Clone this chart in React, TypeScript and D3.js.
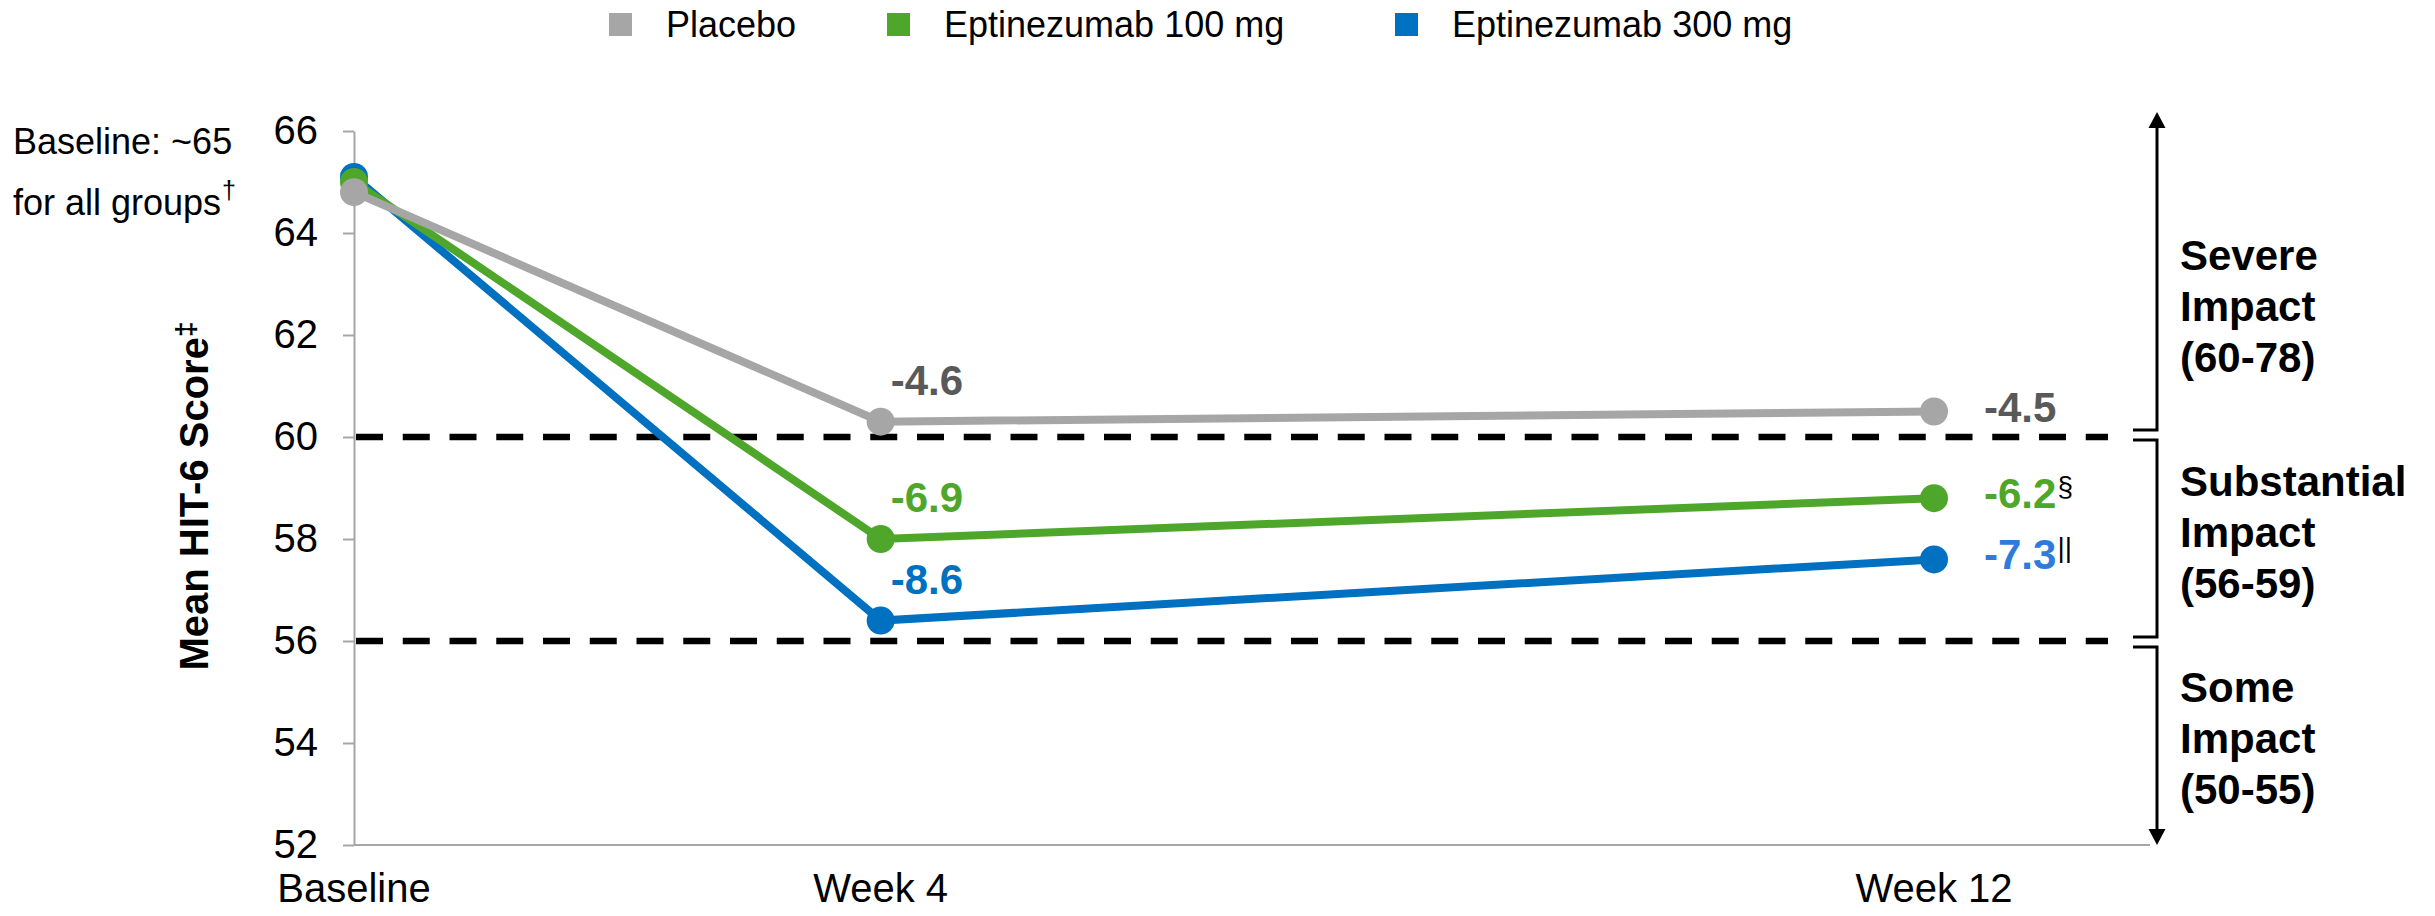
import React, { useEffect, useRef } from 'react';
import * as d3 from 'd3';

// weeks since baseline for each visit, and the axis labels that go under them
const weeks = [0, 4, 12];
const visitLabels = ['Baseline', 'Week 4', 'Week 12'];

// mean HIT-6 score per visit
const placebo = [64.8, 60.3, 60.5];
const epti100 = [65.0, 58.0, 58.8];
const epti300 = [65.1, 56.4, 57.6];

// change from baseline labels (week 4, week 12) and their footnote marks
const placeboChange = ['-4.6', '-4.5'];
const epti100Change = ['-6.9', '-6.2'];
const epti300Change = ['-8.6', '-7.3'];
const placeboMarks = ['', ''];
const epti100Marks = ['', '§'];
const epti300Marks = ['', '||'];

const seriesNames = ['Placebo', 'Eptinezumab 100 mg', 'Eptinezumab 300 mg'];
const yTicks = [52, 54, 56, 58, 60, 62, 64, 66];
const thresholds = [60, 56];

// impact bands on the right and the score their middle line sits at
const bandLabels = [
  ['Severe', 'Impact', '(60-78)'],
  ['Substantial', 'Impact', '(56-59)'],
  ['Some', 'Impact', '(50-55)'],
];
const bandAnchors = [62.27, 57.84, 53.8];

const FONT = '"Liberation Sans", Arial, Helvetica, sans-serif';
const W = 2435;
const H = 916;

export default function App() {
  const gy = useRef<SVGGElement | null>(null);

  const x = d3.scaleLinear().domain([0, 12]).range([354, 1934]);
  const y = d3.scaleLinear().domain([52, 66]).range([845, 131]);

  const axisEnd = 2150;
  const dashEnd = 2108;
  const bx = 2157; // bracket line x

  const series = [
    { name: seriesNames[2], values: epti300, color: '#0070C0', labels: epti300Change, marks: epti300Marks, labelColors: ['#0070C0', '#2E7BDD'] },
    { name: seriesNames[1], values: epti100, color: '#4EA72A', labels: epti100Change, marks: epti100Marks, labelColors: ['#4EA72A', '#4EA72A'] },
    { name: seriesNames[0], values: placebo, color: '#A6A6A6', labels: placeboChange, marks: placeboMarks, labelColors: ['#595959', '#595959'] },
  ];

  const line = d3.line<number>()
    .x((d, i) => x(weeks[i]))
    .y(d => y(d));

  useEffect(() => {
    if (!gy.current) return;
    const g = d3.select(gy.current);
    g.call(d3.axisLeft(y).tickValues(yTicks).tickSize(11).tickSizeOuter(0).tickPadding(25).tickFormat(d3.format('d')));
    g.select('.domain').attr('stroke', '#A6A6A6').attr('stroke-width', 2);
    g.selectAll('.tick line').attr('stroke', '#A6A6A6').attr('stroke-width', 2);
    g.selectAll('.tick text').attr('fill', '#000').style('font-family', FONT).style('font-size', '40px');
  }, []);

  const legendX = [609, 887, 1395];

  const bracket = (y1: number, y2: number, tickTop: boolean, tickBottom: boolean) => {
    let d = '';
    if (tickTop) d += `M${bx - 24},${y1}H${bx}`; else d += `M${bx},${y1}`;
    d += `V${y2}`;
    if (tickBottom) d += `H${bx - 24}`;
    return d;
  };

  const top = y(66) - 19;
  const bottom = y(52);

  return (
    <div style={{ position: 'absolute', left: 0, top: 0 }}>
      <svg width={W} height={H} style={{ display: 'block', fontFamily: FONT }}>
        <rect width={W} height={H} fill="#fff" />

        {/* legend */}
        {series.slice().reverse().map((s, i) => (
          <g key={s.name} transform={`translate(${legendX[i]},0)`}>
            <rect x={0} y={13} width={23} height={23} fill={s.color} />
            <text x={57} y={37} fontSize={36} fill="#000">{s.name}</text>
          </g>
        ))}

        {/* baseline note */}
        <text x={13} y={154} fontSize={36} fill="#000">Baseline: ~65</text>
        <text x={13} y={215} fontSize={36} fill="#000">
          for all groups<tspan fontSize={25} dy={-16} dx={1}>†</tspan>
        </text>

        {/* y axis title */}
        <text transform="translate(208,496) rotate(-90)" textAnchor="middle" fontSize={40} fontWeight="bold" fill="#000">
          Mean HIT-6 Score<tspan fontSize={28} dy={-13}>‡</tspan>
        </text>

        <g ref={gy} transform={`translate(${x(0)},0)`} />

        {/* x axis */}
        <line x1={x(0)} x2={axisEnd} y1={bottom} y2={bottom} stroke="#A6A6A6" strokeWidth={2} />
        {weeks.map((w, i) => (
          <text key={w} x={x(w)} y={902} textAnchor="middle" fontSize={40} fill="#000">{visitLabels[i]}</text>
        ))}

        {/* impact thresholds */}
        {thresholds.map(t => (
          <line key={t} x1={x(0) + 2} x2={dashEnd} y1={y(t)} y2={y(t)} stroke="#000" strokeWidth={6.5} strokeDasharray="27 19.75" />
        ))}

        {/* series lines and markers */}
        {series.map(s => (
          <g key={s.name}>
            <path d={line(s.values) || ''} fill="none" stroke={s.color} strokeWidth={8} />
            {s.values.map((v, i) => (
              <circle key={i} cx={x(weeks[i])} cy={y(v)} r={14} fill={s.color} />
            ))}
          </g>
        ))}

        {/* change from baseline labels */}
        {series.map(s => (
          <g key={s.name + '-lab'} fontWeight="bold" fontSize={42}>
            <text x={x(weeks[1]) + 10} y={y(s.values[1]) - 27} fill={s.labelColors[0]}>{s.labels[0]}</text>
            <text x={x(weeks[2]) + 50} y={y(s.values[2]) + 10} fill={s.labelColors[1]}>
              {s.labels[1]}
              {s.marks[1] && (
                <tspan fontSize={28} fontWeight="normal" fill="#000" dy={-12} dx={1}>{s.marks[1]}</tspan>
              )}
            </text>
          </g>
        ))}

        {/* impact band brackets */}
        <g fill="none" stroke="#000" strokeWidth={3}>
          <path d={bracket(top + 15, y(60) - 7, false, true)} />
          <path d={bracket(y(60) + 3, y(56) - 4, true, true)} />
          <path d={bracket(y(56) + 6, bottom - 15, true, false)} />
        </g>
        <path d={`M${bx},${top}L${bx - 8.5},${top + 16}L${bx + 8.5},${top + 16}Z`} fill="#000" />
        <path d={`M${bx},${bottom}L${bx - 8.5},${bottom - 16}L${bx + 8.5},${bottom - 16}Z`} fill="#000" />

        {bandLabels.map((lines, bi) => (
          <text key={bi} fontSize={42} fontWeight="bold" fill="#000">
            {lines.map((l, li) => (
              <tspan key={li} x={2180} y={y(bandAnchors[bi]) + (li - 1) * 51}>{l}</tspan>
            ))}
          </text>
        ))}
      </svg>
    </div>
  );
}
